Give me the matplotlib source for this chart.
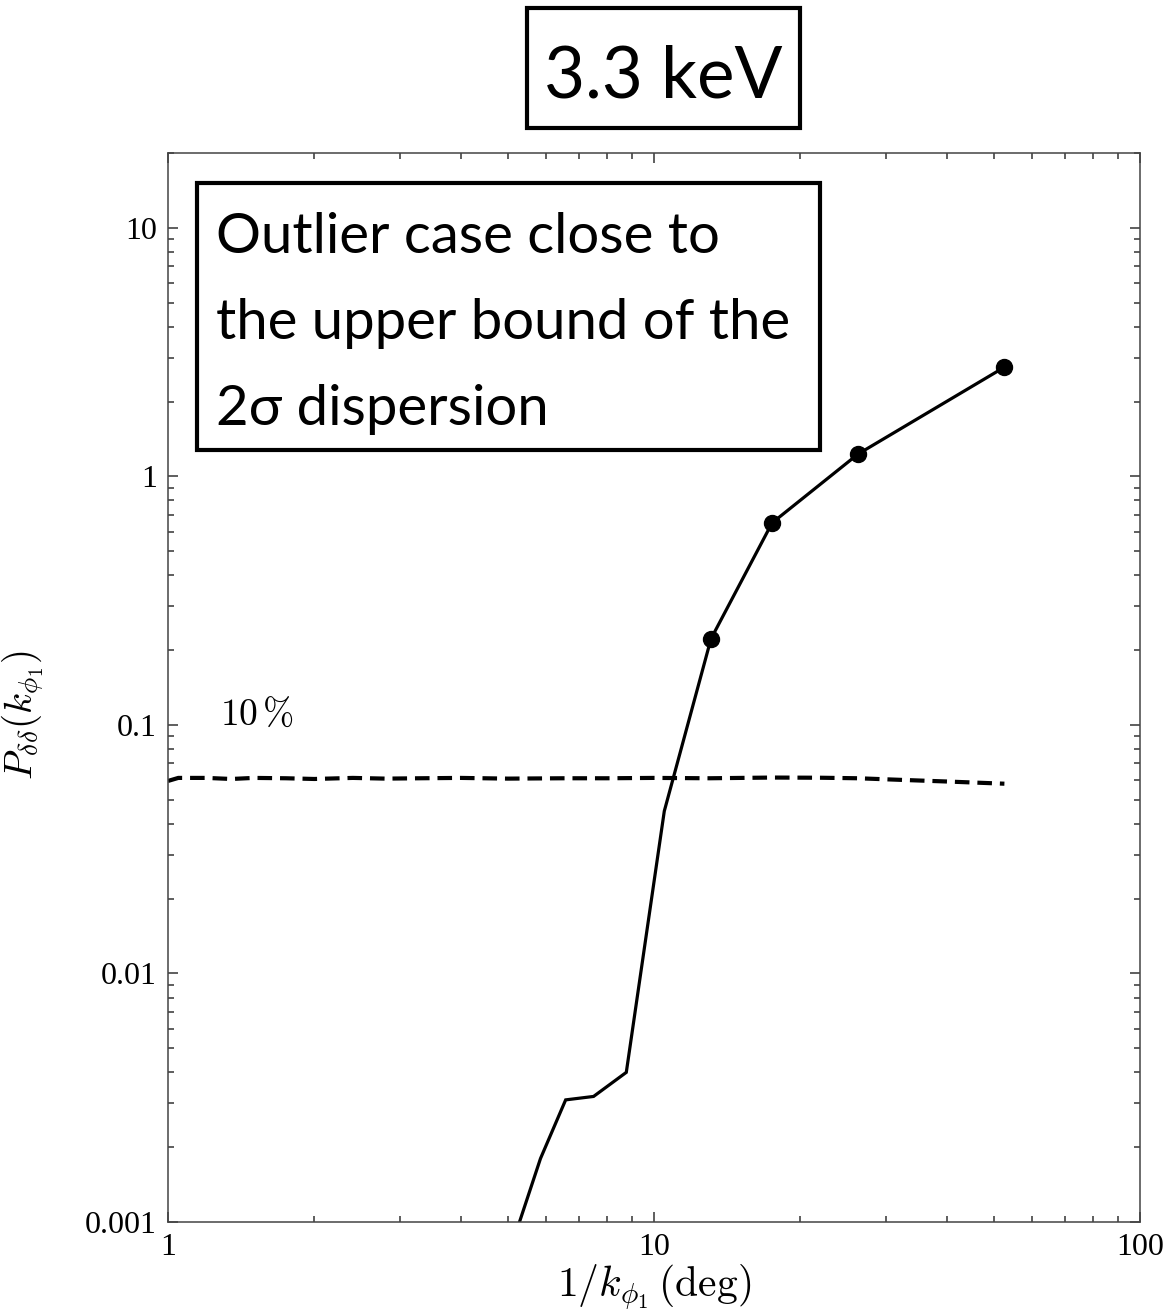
import numpy as np
import matplotlib
matplotlib.use("Agg")
import matplotlib.pyplot as plt
from matplotlib import patches, ticker

plt.rcParams['mathtext.fontset'] = 'cm'

# solid curve: P(k) vs 1/k in degrees
inv_k = [52.6, 26.3, 17.5, 13.1, 10.5, 8.77, 7.51, 6.58, 5.84, 5.26]
power = [2.75, 1.23, 0.65, 0.222, 0.045, 0.0040, 0.0032, 0.0031, 0.0018, 0.00097]
marked = [0, 1, 2, 3]

# dashed 10% threshold curve
thr_x = [1.0, 1.05, 1.2, 1.35, 1.5, 1.75, 2.0, 2.4, 2.8, 3.3, 4.0, 5.0, 6.5,
         8.0, 10.0, 13.0, 17.5, 22.0, 26.3, 33.0, 40.0, 52.6]
thr_y = [0.0595, 0.0612, 0.0612, 0.0606, 0.0612, 0.0610, 0.0606, 0.0612,
         0.0608, 0.0610, 0.0612, 0.0608, 0.0610, 0.0610, 0.0612, 0.0610,
         0.0614, 0.0613, 0.0610, 0.0600, 0.0592, 0.0580]

title = "3.3 keV"
note_lines = ["Outlier case close to", "the upper bound of the", "2\u03c3 dispersion"]

W, H = 1171, 1313
fig = plt.figure(figsize=(W / 100, H / 100), dpi=100)
ax = fig.add_axes([168 / W, 1 - 1222 / H, 972 / W, 1069 / H])

ax.plot(inv_k, power, color='black', lw=2.3, marker='o', ms=11.5,
        markevery=marked, solid_joinstyle='miter')
ax.plot(thr_x, thr_y, color='black', lw=3.0, dashes=(3.5, 1.9))

ax.set_xscale('log')
ax.set_yscale('log')
ax.set_xlim(1, 100)
ax.set_ylim(0.001, 20)

fmt = ticker.FuncFormatter(lambda v, p: '%g' % v)
ax.xaxis.set_major_locator(ticker.FixedLocator([1, 10, 100]))
ax.yaxis.set_major_locator(ticker.FixedLocator([0.001, 0.01, 0.1, 1, 10]))
ax.xaxis.set_major_formatter(fmt)
ax.yaxis.set_major_formatter(fmt)
ax.xaxis.set_minor_locator(ticker.LogLocator(base=10, subs=np.arange(2, 10)))
ax.yaxis.set_minor_locator(ticker.LogLocator(base=10, subs=np.arange(2, 10)))
ax.xaxis.set_minor_formatter(ticker.NullFormatter())
ax.yaxis.set_minor_formatter(ticker.NullFormatter())

ax.tick_params(which='both', direction='in', top=True, right=True,
               color='#333333', width=1.1)
ax.tick_params(which='major', length=7.5, pad=8)
ax.tick_params(which='minor', length=4.5)
for lab in ax.get_xticklabels() + ax.get_yticklabels():
    lab.set_fontfamily('Liberation Serif')
    lab.set_fontsize(23)
for s in ax.spines.values():
    s.set_color('#444444')
    s.set_linewidth(1.1)

ax.set_xlabel(r'$1/k_{\phi_1}\,(\mathrm{deg})$', fontsize=30, labelpad=0)
ax.set_ylabel(r'$P_{\delta\delta}(k_{\phi_1})$', fontsize=28)
ax.yaxis.set_label_coords(-0.125, 0.474)

ax.text(1.28, 0.1, r'$10\,\%$', fontsize=27, va='baseline', ha='left')

# boxed title on top
fig.patches.append(patches.Rectangle((527 / W, 1 - 128 / H), 273 / W, 120 / H,
                                     transform=fig.transFigure, fill=False,
                                     lw=3, ec='black'))
fig.text(663 / W, 1 - 98 / H, title, fontsize=51, family=['Lato', 'DejaVu Sans'],
         ha='center', va='baseline')

# boxed note inside the axes
fig.patches.append(patches.Rectangle((197 / W, 1 - 450 / H), 623 / W, 267 / H,
                                     transform=fig.transFigure, fill=False,
                                     lw=3, ec='black', zorder=5))
for i, line in enumerate(note_lines):
    fig.text(216 / W, 1 - (253 + 86 * i) / H, line, fontsize=40.5,
             family=['Lato', 'DejaVu Sans'], ha='left', va='baseline')

fig.savefig('out.png', dpi=100)
